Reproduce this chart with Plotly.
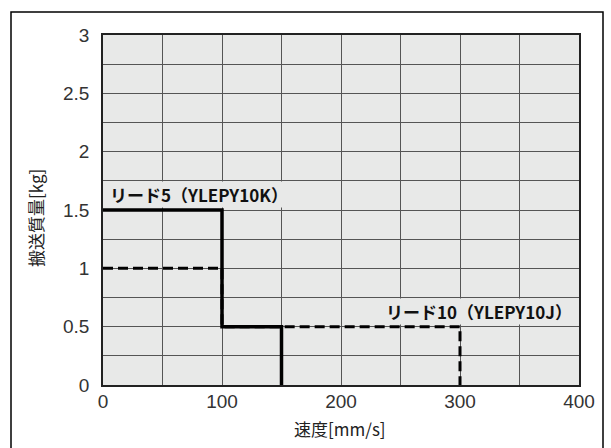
import plotly.graph_objects as go

# Data
speed_lead5 = [0, 100, 100, 150, 150]
payload_lead5 = [1.5, 1.5, 0.5, 0.5, 0]
speed_lead10 = [0, 100, 100, 300, 300]
payload_lead10 = [1, 1, 0.5, 0.5, 0]
label_lead5 = "リード5（YLEPY10K）"
label_lead10 = "リード10（YLEPY10J）"
x_title = "速度[mm/s]"
y_title = "搬送質量[kg]"
x_ticks = [0, 100, 200, 300, 400]
y_ticks = [0, 0.5, 1, 1.5, 2, 2.5, 3]
y_tick_text = ["0", "0.5", "1", "1.5", "2", "2.5", "3"]

W, H = 611, 448
L, R, T, B = 103, 32, 35, 63
pw = W - L - R
ph = H - T - B

def px2paper_x(px):
    return (px - L) / pw

def px2paper_y(py):
    return (H - B - py) / ph

bg = "#e8e9e8"
fig = go.Figure()
fig.add_trace(go.Scatter(x=speed_lead10, y=payload_lead10, mode="lines",
                         line=dict(color="black", width=3, dash="10px,5px"),
                         showlegend=False, hoverinfo="skip"))
fig.add_trace(go.Scatter(x=speed_lead5, y=payload_lead5, mode="lines",
                         line=dict(color="black", width=3.5),
                         showlegend=False, hoverinfo="skip"))

fig.add_annotation(x=81, y=1.63, text="<b>" + label_lead5 + "</b>", showarrow=False,
                   font=dict(family="Noto Sans CJK JP", size=17, color="#111"),
                   bgcolor=bg, xanchor="center", yanchor="middle", borderpad=0)
fig.add_annotation(x=316, y=0.626, text="<b>" + label_lead10 + "</b>", showarrow=False,
                   font=dict(family="Noto Sans CJK JP", size=17, color="#111"),
                   bgcolor=bg, xanchor="center", yanchor="middle", borderpad=0)

# axis titles
fig.add_annotation(xref="paper", yref="paper", x=px2paper_x(340), y=px2paper_y(428),
                   text=x_title, showarrow=False, xanchor="center", yanchor="middle",
                   font=dict(family="Noto Sans CJK JP", size=17, color="#222"))
fig.add_annotation(xref="paper", yref="paper", x=px2paper_x(35), y=px2paper_y(218),
                   text=y_title, showarrow=False, textangle=-90, xanchor="center", yanchor="middle",
                   font=dict(family="Noto Sans CJK JP", size=17, color="#222"))

# header (cut off at the top edge, as in the reference)
fig.add_annotation(xref="paper", yref="paper", x=px2paper_x(13), y=px2paper_y(-1),
                   text="<b>垂直</b>", showarrow=False, xanchor="left", yanchor="bottom",
                   font=dict(family="Noto Sans CJK JP", size=26, color="black"))

# outer border
fig.add_shape(type="rect", xref="paper", yref="paper",
              x0=px2paper_x(11), x1=px2paper_x(603), y0=px2paper_y(460), y1=px2paper_y(12),
              line=dict(color="black", width=1.5), fillcolor="rgba(0,0,0,0)", layer="below")

fig.update_xaxes(range=[0, 400], tickvals=x_ticks,
                 showgrid=True, gridcolor="#555", gridwidth=1,
                 minor=dict(dtick=50, showgrid=True, gridcolor="#555", gridwidth=1),
                 showline=True, linecolor="#222", linewidth=1.5, mirror=True,
                 zeroline=False, ticks="", ticklabelstandoff=-2,
                 tickfont=dict(family="Liberation Sans", size=19, color="#333"))
fig.update_yaxes(range=[0, 3], tickvals=y_ticks, ticktext=y_tick_text,
                 showgrid=True, gridcolor="#555", gridwidth=1,
                 minor=dict(dtick=0.25, showgrid=True, gridcolor="#555", gridwidth=1),
                 showline=True, linecolor="#222", linewidth=1.5, mirror=True,
                 zeroline=False, ticks="", ticklabelstandoff=8,
                 tickfont=dict(family="Liberation Sans", size=19, color="#333"))

fig.update_layout(width=W, height=H, margin=dict(l=L, r=R, t=T, b=B, autoexpand=False),
                  plot_bgcolor=bg, paper_bgcolor="white", showlegend=False)

fig.write_html("out.html", config={"displayModeBar": False},
               post_script="document.body.style.margin='0';document.body.style.overflow='hidden';")
